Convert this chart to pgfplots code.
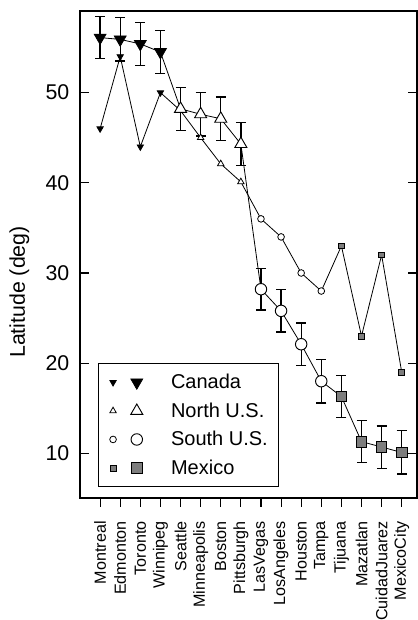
\documentclass[border=0pt]{standalone}
\usepackage{fontspec}
\setmainfont{Liberation Sans}
\usepackage{pgfplots}
\pgfplotsset{compat=1.18}
\usepackage{pgfplotstable}

\pgfplotstableread{
x small large err
0  46.0 56.1 2.35
1  54.0 55.9 2.40
2  44.0 55.4 2.40
3  50.0 54.5 2.40
4  48.0 48.2 2.40
5  45.0 47.6 2.40
6  42.1 47.1 2.40
7  40.1 44.3 2.40
8  36.0 28.2 2.30
9  34.0 25.8 2.35
10 30.0 22.1 2.35
11 28.0 18.0 2.40
12 33.0 16.3 2.35
13 23.0 11.3 2.35
14 32.0 10.7 2.35
15 19.0 10.1 2.40
}\datatable

\definecolor{mexgray}{RGB}{125,125,125}

\begin{document}
\begin{tikzpicture}
\begin{axis}[
  scale only axis,
  width=252.75pt, height=365.25pt,
  xmin=-1, xmax=15.76,
  ymin=5.05, ymax=59.05,
  axis line style={line width=0.8pt},
  tick align=inside,
  major tick length=6.5pt,
  tick style={black, line width=0.8pt},
  x tick style={yshift=-6.5pt},
  xtick pos=bottom,
  ytick pos=both,
  xtick={0,...,15},
  xticklabels={Montreal,Edmonton,Toronto,Winnipeg,Seattle,Minneapolis,Boston,Pittsburgh,LasVegas,LosAngeles,Houston,Tampa,Tijuana,Mazatlan,CuidadJuarez,MexicoCity},
  xticklabel style={rotate=90, anchor=east, font=\fontsize{12.1}{14}\selectfont, xshift=-14pt},
  ytick={10,20,30,40,50},
  yticklabel style={font=\fontsize{16}{19}\selectfont, xshift=-4.5pt},
  /pgf/number format/assume math mode=true,
  ylabel={Latitude (deg)},
  ylabel style={at={(axis description cs:-0.18,0.423)}, anchor=center, rotate=0, font=\fontsize{16}{19}\selectfont},
  legend style={at={(axis description cs:0.053,0.0226)}, anchor=south west,
    draw=black, line width=0.8pt, fill=white, inner xsep=8pt, inner ysep=7pt,
    row sep=7.7pt, column sep=0pt,
    nodes={inner sep=0pt, text height=11.7pt, text depth=2pt, line width=0.6pt},
    font=\fontsize{15}{18}\selectfont},
  legend cell align=left,
]
% true latitude series
\addplot[black, line width=0.6pt, mark=none, forget plot] table[x=x,y=small]{\datatable};
\addplot[only marks, mark=triangle*, mark options={rotate=180, fill=black, draw=black, line width=0.5pt}, mark size=2.8pt, restrict x to domain=-0.5:3.5, forget plot] table[x=x,y=small]{\datatable};
\addplot[only marks, mark=triangle*, mark options={fill=white, draw=black, line width=0.6pt}, mark size=2.8pt, restrict x to domain=3.5:7.5, forget plot] table[x=x,y=small]{\datatable};
\addplot[only marks, mark=*, mark options={fill=white, draw=black, line width=0.6pt}, mark size=2.5pt, restrict x to domain=7.5:11.5, forget plot] table[x=x,y=small]{\datatable};
\addplot[only marks, mark=square*, mark options={fill=mexgray, draw=black, line width=0.6pt}, mark size=2.2pt, restrict x to domain=11.5:15.5, forget plot] table[x=x,y=small]{\datatable};
% estimated series with error bars
\addplot[black, line width=0.6pt, mark=none, forget plot,
  error bars/.cd, y dir=both, y explicit,
  error bar style={line width=1pt, black},
  error mark options={rotate=90, mark size=3.75pt, line width=1pt, black}]
  table[x=x,y=large,y error=err]{\datatable};
\addplot[only marks, mark=triangle*, mark options={rotate=180, fill=black, draw=black, line width=0.5pt}, mark size=5.2pt, restrict x to domain=-0.5:3.5, forget plot] table[x=x,y=large]{\datatable};
\addplot[only marks, mark=triangle*, mark options={fill=white, draw=black, line width=0.7pt}, mark size=5.2pt, restrict x to domain=3.5:7.5, forget plot] table[x=x,y=large]{\datatable};
\addplot[only marks, mark=*, mark options={fill=white, draw=black, line width=0.7pt}, mark size=4.3pt, restrict x to domain=7.5:11.5, forget plot] table[x=x,y=large]{\datatable};
\addplot[only marks, mark=square*, mark options={fill=mexgray, draw=black, line width=0.7pt}, mark size=4.0pt, restrict x to domain=11.5:15.5, forget plot] table[x=x,y=large]{\datatable};
% legend
\addlegendimage{legend image code/.code={
  \path[draw=none, fill=none] (-3pt,-5pt) rectangle (43.5pt,5pt);
  \path[draw=black, fill=black, line width=0.5pt] plot[mark=triangle*, mark size=2.8pt, mark options={rotate=180}] coordinates {(0pt,0pt)};
  \path[draw=black, fill=black, line width=0.5pt] plot[mark=triangle*, mark size=5.2pt, mark options={rotate=180}] coordinates {(17.8pt,0pt)};}}
\addlegendentry{Canada}
\addlegendimage{legend image code/.code={
  \path[draw=none, fill=none] (-3pt,-5pt) rectangle (43.5pt,5pt);
  \path[draw=black, fill=white, line width=0.6pt] plot[mark=triangle*, mark size=2.8pt] coordinates {(0pt,0pt)};
  \path[draw=black, fill=white, line width=0.7pt] plot[mark=triangle*, mark size=5.2pt] coordinates {(17.8pt,0pt)};}}
\addlegendentry{North U.S.}
\addlegendimage{legend image code/.code={
  \path[draw=none, fill=none] (-3pt,-5pt) rectangle (43.5pt,5pt);
  \path[draw=black, fill=white, line width=0.6pt] plot[mark=*, mark size=2.5pt] coordinates {(0pt,0pt)};
  \path[draw=black, fill=white, line width=0.7pt] plot[mark=*, mark size=4.3pt] coordinates {(17.8pt,0pt)};}}
\addlegendentry{South U.S.}
\addlegendimage{legend image code/.code={
  \path[draw=none, fill=none] (-3pt,-5pt) rectangle (43.5pt,5pt);
  \path[draw=black, fill=mexgray, line width=0.6pt] plot[mark=square*, mark size=2.2pt] coordinates {(0pt,0pt)};
  \path[draw=black, fill=mexgray, line width=0.7pt] plot[mark=square*, mark size=4.0pt] coordinates {(17.8pt,0pt)};}}
\addlegendentry{Mexico}
\coordinate (sw) at (rel axis cs:0,0);
\coordinate (ne) at (rel axis cs:1,1);
\end{axis}
\pgfresetboundingbox
\path ([shift={(-60pt,-91.5pt)}]sw) rectangle ([shift={(0pt,8.25pt)}]ne);
\end{tikzpicture}
\end{document}
